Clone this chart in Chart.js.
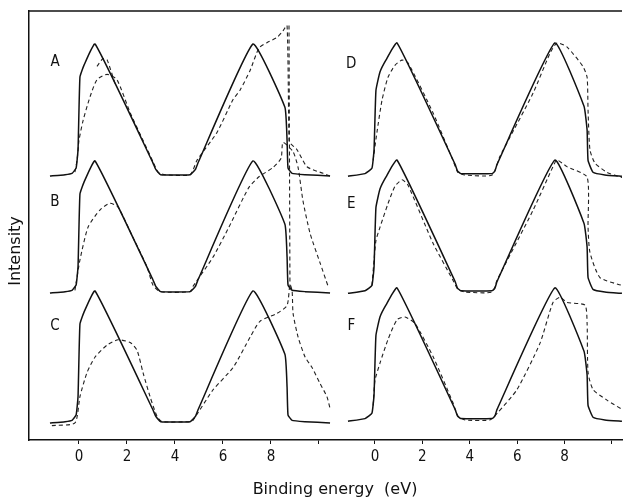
<!DOCTYPE html>
<html><head><meta charset="utf-8">
<script src="https://cdn.jsdelivr.net/npm/chart.js@4.4.0/dist/chart.umd.min.js"></script>
<style>html,body{margin:0;padding:0;background:#fff;}#wrap{width:628px;height:500px;}</style>
</head><body><div id="wrap"><canvas id="c" width="628" height="500"></canvas></div>
<script>
// ---- data: [binding energy (eV), relative intensity] ----
const tickValues = [0, 2, 4, 6, 8, 10];
const panelLettersLeft = ['A', 'B', 'C'];
const panelLettersRight = ['D', 'E', 'F'];
const offsetsLeft = [2.0, 1.114, 0.129];
const offsetsRight = [2.008, 1.121, 0.152];
const letterYLeft = [2.86, 1.80, 0.86];
const letterYRight = [2.85, 1.79, 0.86];
const letterE = -1.0;

const solidLeft = [[-1.21,0],[-0.58,0.01],[-0.29,0.02],[-0.12,0.06],[-0.04,0.2],[0.04,0.75],[0.21,0.84],[0.67,1.0],[3.08,0.1],[3.2,0.05],[3.4,0.01],[4.63,0.01],[4.85,0.05],[4.96,0.1],[7.25,1.0],[8.58,0.52],[8.67,0.27],[8.71,0.06],[8.88,0.02],[9.42,0.01],[10.46,0]];
const dashA = [[-0.17,0.03],[-0.08,0.12],[0.0,0.27],[0.17,0.42],[0.46,0.6],[0.75,0.73],[1.17,0.77],[1.58,0.73],[2.13,0.48],[2.67,0.27],[3.08,0.11],[3.29,0.03],[3.58,0.01],[4.63,0.01],[4.92,0.12],[5.75,0.33],[6.42,0.58],[6.71,0.65],[7.13,0.8],[7.5,0.97],[7.83,1.01],[8.25,1.05],[8.5,1.1],[8.67,1.14],[8.75,0.27],[8.79,0.25],[9.08,0.2],[9.5,0.07],[10.17,0.02],[10.46,0]];
const dashA2 = [[0.75,0.83],[1.0,0.89],[1.17,0.88],[1.5,0.70]];
const dashB = [[-0.17,0.02],[0.04,0.25],[0.38,0.5],[0.88,0.63],[1.29,0.68],[1.63,0.65],[2.25,0.42],[2.83,0.2],[3.08,0.06],[3.38,0.01],[4.63,0.01],[4.75,0.05],[5.58,0.27],[6.25,0.5],[7.08,0.8],[7.5,0.88],[8.08,0.95],[8.42,1.02],[8.5,1.14],[8.92,1.07],[9.13,0.95],[9.33,0.7],[9.63,0.45],[10.04,0.23],[10.38,0.05]];
const dashC = [[-1.13,-0.02],[-0.17,0],[0.04,0.2],[0.33,0.38],[0.67,0.5],[1.17,0.59],[1.63,0.63],[2.13,0.61],[2.42,0.55],[2.67,0.38],[2.96,0.2],[3.25,0.05],[3.46,0.01],[4.63,0.01],[4.75,0.02],[5.58,0.25],[6.42,0.42],[7.13,0.65],[7.54,0.77],[8.25,0.83],[8.67,0.89],[8.79,1.05],[8.88,1.0],[8.92,0.83],[9.13,0.65],[9.42,0.5],[9.71,0.42],[10.04,0.3],[10.33,0.2],[10.46,0.11]];
const edgeLine = [[8.75, 3.14], [8.79, 1.14]];

const solidRight = [[-1.14,-0.01],[-0.42,0.01],[-0.13,0.05],[-0.04,0.19],[0.04,0.64],[0.21,0.78],[0.46,0.87],[0.93,1.0],[3.38,0.08],[3.48,0.03],[3.62,0.01],[4.94,0.01],[5.06,0.03],[5.15,0.08],[7.59,1.0],[8.82,0.52],[8.95,0.34],[8.99,0.11],[9.2,0.02],[9.7,0],[10.42,-0.01]];
const dashD = [[-0.08,0.11],[0.08,0.32],[0.3,0.57],[0.55,0.74],[0.84,0.83],[1.14,0.87],[1.39,0.85],[2.45,0.47],[3.29,0.11],[3.5,0.02],[3.8,0],[4.94,0],[5.27,0.14],[6.67,0.62],[7.38,0.92],[7.68,1.0],[8.1,0.97],[8.78,0.82],[8.95,0.74],[8.99,0.49],[9.07,0.19],[9.28,0.09],[9.79,0.02],[10.42,-0.02]];
const dashE = [[-0.13,0.05],[-0.04,0.24],[0.04,0.39],[0.21,0.49],[0.55,0.67],[0.84,0.8],[1.14,0.85],[1.39,0.81],[2.45,0.37],[3.29,0.09],[3.5,0.02],[3.8,0],[4.94,0],[5.15,0.09],[6.67,0.62],[7.51,0.95],[7.68,1.0],[8.1,0.95],[8.95,0.87],[8.99,0.49],[9.07,0.3],[9.49,0.11],[10.42,0.05]];
const dashF = [[-0.08,0.11],[0,0.3],[0.21,0.43],[0.55,0.61],[0.93,0.76],[1.27,0.78],[1.69,0.73],[2.45,0.48],[3.29,0.13],[3.5,0.03],[3.8,0],[4.85,0],[5.15,0.05],[5.99,0.23],[6.96,0.58],[7.51,0.89],[7.81,0.93],[8.1,0.89],[8.86,0.87],[8.95,0.73],[8.99,0.36],[9.2,0.23],[9.79,0.15],[10.42,0.08]];

// ---- mapping of the two panels onto one shared x axis ----
const R0 = 12.333, RK = 0.9875;
const toL = e => e;
const toR = e => R0 + RK * e;
const fromU = u => (u > 11 ? (u - R0) / RK : u);

function pts(arr, map, off) { return arr.map(p => ({x: map(p[0]), y: p[1] + off})); }
const SOLID = {borderColor:'#111', borderWidth:1.5, tension:0.12, pointRadius:0, fill:false};
const DASH = {borderColor:'#222', borderWidth:1.1, borderDash:[4,3], tension:0.2, pointRadius:0, fill:false};

const datasets = [];
[0,1,2].forEach(i => datasets.push(Object.assign({label:panelLettersLeft[i]+' solid', data:pts(solidLeft,toL,offsetsLeft[i])}, SOLID)));
[0,1,2].forEach(i => datasets.push(Object.assign({label:panelLettersRight[i]+' solid', data:pts(solidRight,toR,offsetsRight[i])}, SOLID)));
datasets.push(Object.assign({label:'A dashed', data:pts(dashA,toL,offsetsLeft[0])}, DASH));
datasets.push(Object.assign({label:'A dashed 2', data:pts(dashA2,toL,offsetsLeft[0])}, DASH));
datasets.push(Object.assign({label:'B dashed', data:pts(dashB,toL,offsetsLeft[1])}, DASH));
datasets.push(Object.assign({label:'C dashed', data:pts(dashC,toL,offsetsLeft[2])}, DASH));
datasets.push(Object.assign({label:'edge', data:pts(edgeLine,toL,0)}, DASH, {tension:0}));
datasets.push(Object.assign({label:'D dashed', data:pts(dashD,toR,offsetsRight[0])}, DASH));
datasets.push(Object.assign({label:'E dashed', data:pts(dashE,toR,offsetsRight[1])}, DASH));
datasets.push(Object.assign({label:'F dashed', data:pts(dashF,toR,offsetsRight[2])}, DASH));

const FONT = "'DejaVu Sans Condensed', 'Liberation Sans Narrow', 'DejaVu Sans', sans-serif";
const TITLE_FONT = "'DejaVu Sans', sans-serif";

const decor = {
  id: 'decor',
  afterDraw(chart) {
    const {ctx, chartArea: a, scales: {x, y}} = chart;
    ctx.save();
    ctx.strokeStyle = '#111'; ctx.lineWidth = 1.5;
    ctx.beginPath(); ctx.moveTo(a.left, a.top); ctx.lineTo(a.right, a.top); ctx.stroke();
    ctx.fillStyle = '#111';
    ctx.font = '15px ' + FONT;
    ctx.textAlign = 'center'; ctx.textBaseline = 'middle';
    panelLettersLeft.forEach((t, i) => ctx.fillText(t, x.getPixelForValue(toL(letterE)), y.getPixelForValue(letterYLeft[i])));
    panelLettersRight.forEach((t, i) => ctx.fillText(t, x.getPixelForValue(toR(letterE)), y.getPixelForValue(letterYRight[i])));
    // axis titles
    ctx.font = '16px ' + TITLE_FONT;
    ctx.fillText('Binding energy  (eV)', 335, 490);
    ctx.translate(16, 251); ctx.rotate(-Math.PI / 2);
    ctx.fillText('Intensity', 0, 0);
    ctx.restore();
  }
};

new Chart(document.getElementById('c'), {
  type: 'line',
  data: {datasets},
  options: {
    responsive: false, animation: false, devicePixelRatio: 1,
    layout: {padding: {top: 11, right: 6, left: 0, bottom: 0}},
    plugins: {legend: {display: false}, tooltip: {enabled: false}},
    scales: {
      x: {
        type: 'linear', min: -2.083, max: 22.625,
        afterBuildTicks: s => { s.ticks = tickValues.map(v => ({value: toL(v)})).concat(tickValues.map(v => ({value: toR(v)}))); },
        afterFit: s => { s.height = 60; },
        ticks: {autoSkip: false, maxRotation: 0, color: '#111', padding: 4,
          font: {family: FONT, size: 15},
          callback: v => { const e = Math.round(fromU(v)); return e === 10 ? '' : String(e); }},
        grid: {drawOnChartArea: false, drawTicks: true, tickLength: 4, color: '#111', lineWidth: 1},
        border: {display: true, color: '#111', width: 1.5}
      },
      y: {
        min: 0, max: 3.25,
        afterFit: s => { s.width = 29; },
        ticks: {display: false},
        grid: {display: false, drawTicks: false},
        border: {display: true, color: '#111', width: 1.5}
      }
    }
  },
  plugins: [decor]
});
</script></body></html>
